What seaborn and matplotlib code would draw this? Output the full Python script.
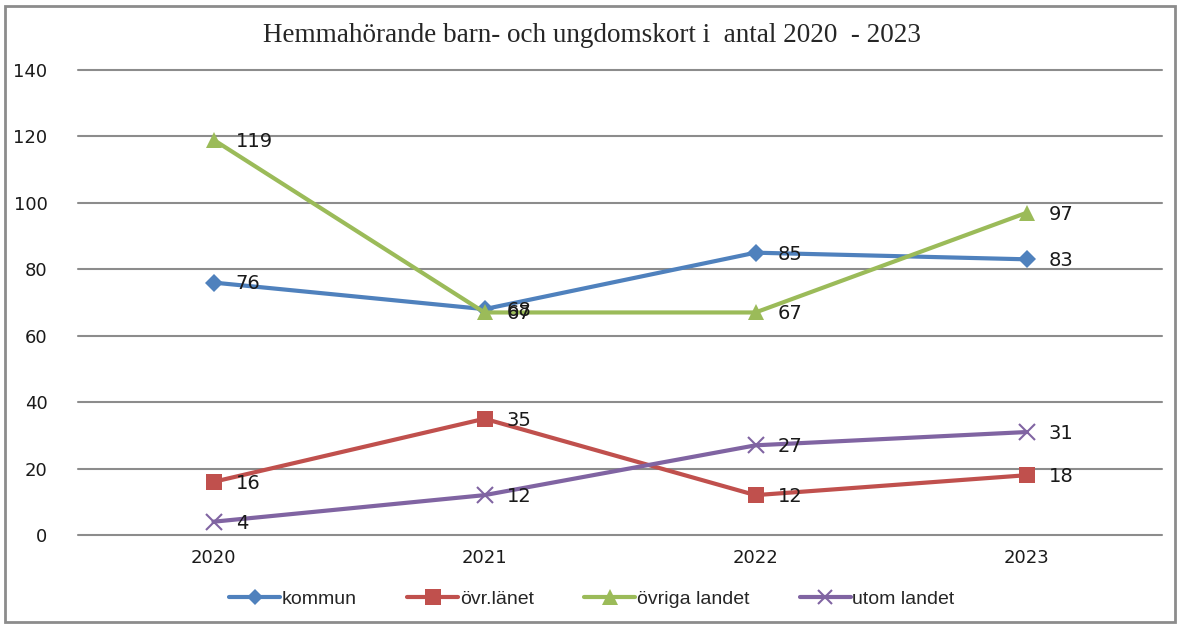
import pandas as pd
import seaborn as sns
import matplotlib.pyplot as plt
from matplotlib.patches import Rectangle

years = ['2020', '2021', '2022', '2023']
kommun = [76, 68, 85, 83]
ovr_lanet = [16, 35, 12, 18]
ovriga_landet = [119, 67, 67, 97]
utom_landet = [4, 12, 27, 31]
series = ['kommun', 'övr.länet', 'övriga landet', 'utom landet']

rows = []
for name, vals in zip(series, [kommun, ovr_lanet, ovriga_landet, utom_landet]):
    for i, v in enumerate(vals):
        rows.append([name, i, v])
df = pd.DataFrame(rows, columns=['serie', 'x', 'antal'])

colors = {'kommun': '#4F81BD', 'övr.länet': '#C0504D',
          'övriga landet': '#9BBB59', 'utom landet': '#8064A2'}
markers = {'kommun': 'D', 'övr.länet': 's',
           'övriga landet': '^', 'utom landet': 'x'}
msize = {'kommun': 9, 'övr.länet': 12, 'övriga landet': 12, 'utom landet': 11}

sns.set_style('white')
plt.rcParams['font.family'] = ['DejaVu Sans']

fig = plt.figure(figsize=(11.84, 6.24), dpi=100)
ax = fig.add_axes([78 / 1184, 89 / 624, 1084 / 1184, 465 / 624])

for name in series:
    sub = df[df['serie'] == name]
    sns.lineplot(data=sub, x='x', y='antal', color=colors[name],
                 marker=markers[name], markersize=msize[name],
                 markeredgewidth=1.5 if name == 'utom landet' else 0,
                 markeredgecolor=colors[name],
                 linewidth=3, ax=ax, label=name, legend=False)

# data labels, right of each point (68 and 67 overlap as in the original)
for name, vals in zip(series, [kommun, ovr_lanet, ovriga_landet, utom_landet]):
    for i, v in enumerate(vals):
        ax.annotate(str(v), (i, v), xytext=(16, -1), textcoords='offset points',
                    ha='left', va='center', fontsize=14, color='#1a1a1a')

ax.set_xlim(-0.5, 3.5)
ax.set_ylim(0, 140)
ax.set_yticks(range(0, 141, 20))
ax.set_xticks(range(4))
ax.set_xticklabels(years)
ax.tick_params(axis='both', labelsize=13, length=0, colors='#1a1a1a')
ax.tick_params(axis='y', pad=22)
ax.tick_params(axis='x', pad=10)
ax.set_xlabel('')
ax.set_ylabel('')
ax.yaxis.grid(True, color='#8c8c8c', linewidth=1.5)
for g in ax.yaxis.get_gridlines():
    g.set_clip_on(False)
ax.set_axisbelow(True)
for s in ax.spines.values():
    s.set_visible(False)

# legend
handles = [plt.Line2D([], [], color=colors[n], marker=markers[n], linewidth=3,
                      markersize=msize[n] - 1, markeredgecolor=colors[n],
                      markeredgewidth=1.5 if n == 'utom landet' else 0)
           for n in series]
fig.legend(handles, series, loc='center', bbox_to_anchor=(0.5, 25 / 624),
           ncol=4, frameon=False, handlelength=2.6,
           columnspacing=2.6, handletextpad=0.1,
           prop={'family': 'Liberation Sans', 'size': 14})

fig.text(0.5, 1 - 36 / 624, 'Hemmahörande barn- och ungdomskort i  antal 2020  - 2023',
         ha='center', va='center', fontsize=19.5, family='Liberation Serif')

fig.patches.append(Rectangle((5 / 1184, 2 / 624), 1170 / 1184, 616 / 624,
                             transform=fig.transFigure, fill=False,
                             edgecolor='#8c8c8c', linewidth=2))

fig.savefig('out.png', dpi=100)
